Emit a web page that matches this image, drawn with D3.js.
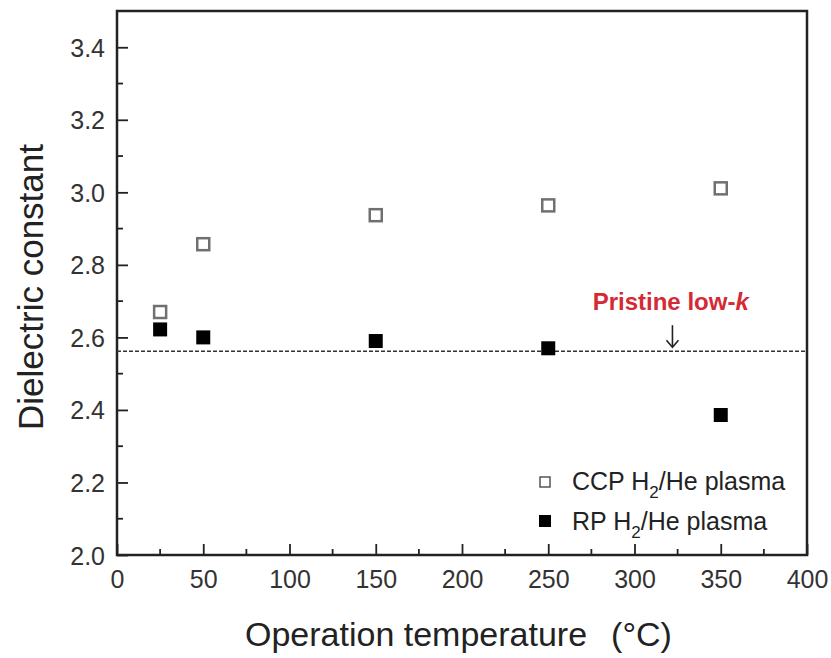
<!DOCTYPE html>
<html>
<head>
<meta charset="utf-8">
<script src="https://cdn.jsdelivr.net/npm/d3@7"></script>
<style>
  body { margin: 0; background: #fff; }
  text { font-family: "Liberation Sans", Arial, sans-serif; }
</style>
</head>
<body>
<div id="chart"></div>
<script>
// data
var temps = [25, 50, 150, 250, 350];
var ccpValues = [2.67, 2.857, 2.937, 2.964, 3.011];
var rpValues = [2.622, 2.60, 2.59, 2.57, 2.386];
var pristineK = 2.562;
var xTicks = [0, 50, 100, 150, 200, 250, 300, 350, 400];
var yTicks = [2.0, 2.2, 2.4, 2.6, 2.8, 3.0, 3.2, 3.4];

var svgWidth = 831;
var svgHeight = 658;
var margin = { top: 11, right: 24, bottom: 103, left: 117 };
var width = svgWidth - margin.left - margin.right;
var height = svgHeight - margin.top - margin.bottom;

var svg = d3.select("#chart").append("svg")
  .attr("width", svgWidth)
  .attr("height", svgHeight);

var chartGroup = svg.append("g")
  .attr("transform", `translate(${margin.left}, ${margin.top})`);

var x = d3.scaleLinear().domain([0, 400]).range([0, width]);
var y = d3.scaleLinear().domain([2.0, 3.5]).range([height, 0]);

// minor ticks
var xMinor = d3.range(25, 400, 50);
var yMinor = d3.range(2.1, 3.45, 0.2);

chartGroup.selectAll(".xminor").data(xMinor).enter().append("line")
  .attr("x1", d => x(d)).attr("x2", d => x(d))
  .attr("y1", height).attr("y2", height - 6)
  .attr("stroke", "#222").attr("stroke-width", 1.8);
chartGroup.selectAll(".yminor").data(yMinor).enter().append("line")
  .attr("y1", d => y(d)).attr("y2", d => y(d))
  .attr("x1", 0).attr("x2", 6)
  .attr("stroke", "#222").attr("stroke-width", 1.8);

// axes, ticks inward
var bottomAxis = d3.axisBottom(x).tickValues(xTicks).tickSizeInner(-11).tickSizeOuter(0).tickPadding(15);
var leftAxis = d3.axisLeft(y).tickValues(yTicks).tickSizeInner(-11).tickSizeOuter(0).tickPadding(12)
  .tickFormat(d3.format(".1f"));

var xAxis = chartGroup.append("g")
  .attr("transform", `translate(0, ${height})`)
  .call(bottomAxis);
var yAxis = chartGroup.append("g").call(leftAxis);

[xAxis, yAxis].forEach(function(a) {
  a.select(".domain").remove();
  a.selectAll("line").attr("stroke", "#222").attr("stroke-width", 1.8);
  a.selectAll("text").attr("font-size", 25).attr("fill", "#333")
    .attr("font-family", "'Liberation Sans', Arial, sans-serif");
});
xAxis.selectAll("text").attr("dy", "0.71em");
yAxis.selectAll("text").attr("dy", "0.36em");

// frame
chartGroup.append("rect")
  .attr("x", 0).attr("y", 0)
  .attr("width", width).attr("height", height)
  .attr("fill", "none").attr("stroke", "#222").attr("stroke-width", 2.5);

// pristine reference line
chartGroup.append("line")
  .attr("x1", 0).attr("x2", width)
  .attr("y1", y(pristineK)).attr("y2", y(pristineK))
  .attr("stroke", "#333").attr("stroke-width", 1.5)
  .attr("stroke-dasharray", "4,2");

chartGroup.append("text")
  .attr("x", x(321)).attr("y", y(pristineK) - 41)
  .attr("text-anchor", "middle")
  .attr("font-size", 24).attr("font-weight", "bold")
  .attr("fill", "#d42a35")
  .text("Pristine low-")
  .append("tspan").attr("font-style", "italic").text("k");

// arrow
chartGroup.append("line")
  .attr("x1", x(322)).attr("x2", x(322))
  .attr("y1", y(pristineK) - 26).attr("y2", y(pristineK) - 5)
  .attr("stroke", "#222").attr("stroke-width", 1.6);
chartGroup.append("path")
  .attr("d", `M${x(322) - 6},${y(pristineK) - 11} L${x(322)},${y(pristineK) - 4} L${x(322) + 6},${y(pristineK) - 11}`)
  .attr("fill", "none").attr("stroke", "#222").attr("stroke-width", 1.6);

var sq = 12;
// CCP open squares
chartGroup.selectAll(".ccp").data(temps).enter().append("rect")
  .attr("x", (d) => x(d) - sq / 2)
  .attr("y", (d, i) => y(ccpValues[i]) - sq / 2)
  .attr("width", sq).attr("height", sq)
  .attr("fill", "#fff").attr("stroke", "#707070").attr("stroke-width", 2.5);

// RP filled squares
chartGroup.selectAll(".rp").data(temps).enter().append("rect")
  .attr("x", (d) => x(d) - 7)
  .attr("y", (d, i) => y(rpValues[i]) - 7)
  .attr("width", 14).attr("height", 14)
  .attr("fill", "#000");

// legend
var legend = svg.append("g").attr("transform", "translate(545, 482)");
legend.append("rect").attr("x", -5).attr("y", -5).attr("width", 10).attr("height", 10)
  .attr("fill", "#fff").attr("stroke", "#555").attr("stroke-width", 1.5);
var t1 = legend.append("text").attr("x", 27).attr("y", 8).attr("font-size", 25).attr("fill", "#222");
t1.append("tspan").text("CCP H");
t1.append("tspan").attr("font-size", 17).attr("dy", 8).text("2");
t1.append("tspan").attr("dy", -8).text("/He plasma");

legend.append("rect").attr("x", -6).attr("y", 33).attr("width", 12).attr("height", 12)
  .attr("fill", "#000");
var t2 = legend.append("text").attr("x", 27).attr("y", 48).attr("font-size", 25).attr("fill", "#222");
t2.append("tspan").text("RP H");
t2.append("tspan").attr("font-size", 17).attr("dy", 8).text("2");
t2.append("tspan").attr("dy", -8).text("/He plasma");

// axis titles
var xTitle = svg.append("text")
  .attr("x", 245).attr("y", 646)
  .attr("font-size", 34).attr("fill", "#222");
xTitle.append("tspan").text("Operation temperature");
xTitle.append("tspan").attr("dx", 24).text("(\u00B0C)");

svg.append("text")
  .attr("transform", `translate(43, 287) rotate(-90)`)
  .attr("text-anchor", "middle")
  .attr("font-size", 35).attr("fill", "#222")
  .text("Dielectric constant");
</script>
</body>
</html>
